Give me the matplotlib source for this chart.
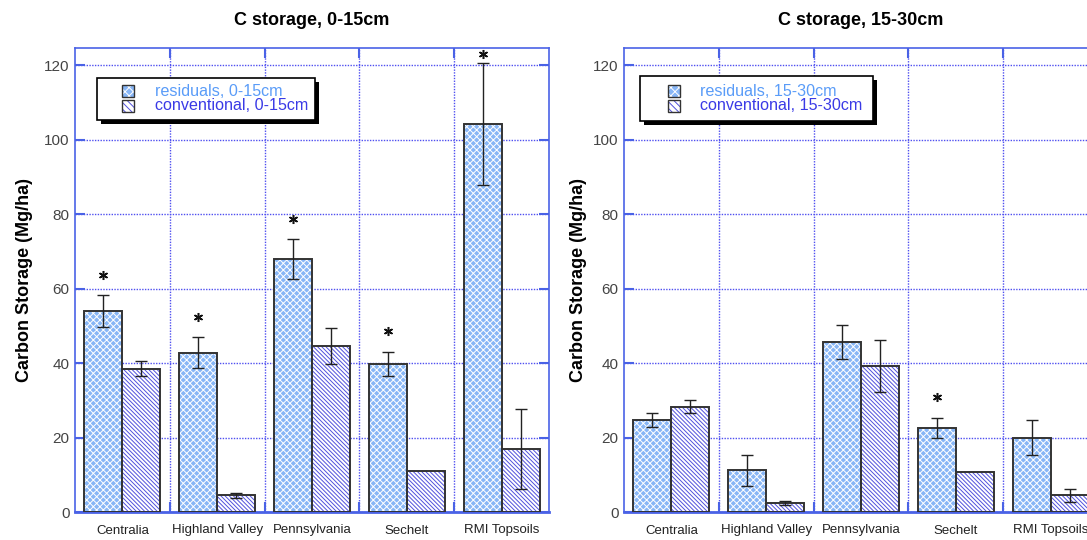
import matplotlib
matplotlib.use('Agg')
import matplotlib.pyplot as plt
from matplotlib.patches import Rectangle
import numpy as np

plt.rcParams['font.family'] = ['Liberation Sans', 'DejaVu Sans']
plt.rcParams['hatch.linewidth'] = 0.7

sites = ['Centralia', 'Highland Valley', 'Pennsylvania', 'Sechelt', 'RMI Topsoils']

# 0-15 cm depth
res_top = [54.0, 42.8, 67.9, 39.8, 104.3]
res_top_err = [4.2, 4.1, 5.3, 3.2, 16.4]
conv_top = [38.5, 4.5, 44.5, 10.9, 16.9]
conv_top_err = [2.0, 0.7, 4.8, 0.0, 10.7]
star_top = [True, True, True, True, True]

# 15-30 cm depth
res_sub = [24.7, 11.2, 45.6, 22.6, 20.0]
res_sub_err = [1.8, 4.1, 4.5, 2.7, 4.6]
conv_sub = [28.3, 2.4, 39.2, 10.8, 4.5]
conv_sub_err = [1.7, 0.6, 7.1, 0.0, 1.7]
star_sub = [False, False, False, True, False]

BLUE = '#4a62e6'
GRID = '#4f4ff0'
RES_FACE = '#88b6f6'
RES_HATCH = 'xxxxx'
CONV_HATCH = '#5050dc'
CONV_PATTERN = '\\' * 8
OUTLINE = '#333333'


def hatched_bar(ax, x, h, w, face, hatch, hcolor):
    ax.bar(x, h, w, color=face, edgecolor=hcolor, hatch=hatch, linewidth=0, zorder=2)
    ax.bar(x, h, w, fill=False, edgecolor=OUTLINE, linewidth=1.4, zorder=3)


def draw_legend(ax, depth, box, hx, tx):
    # legend box with drop shadow, positions in pixels from the top-left of the axes
    tr = ax.transAxes
    px = 1 / 474.0
    py = 1 / 464.0
    bx0, bx1, by_top, by_bot = box
    w, h = (bx1 - bx0) * px, (by_bot - by_top) * py
    ax.add_patch(Rectangle((bx0 * px + 4 * px, 1 - by_bot * py - 4 * py), w, h, transform=tr,
                           facecolor='black', edgecolor='none', zorder=6))
    ax.add_patch(Rectangle((bx0 * px, 1 - by_bot * py), w, h, transform=tr,
                           facecolor='white', edgecolor='black', linewidth=1.2, zorder=7))
    hw, hh = 12 * px, 12 * py
    for yy, face, hc, pat in [(49, RES_FACE, 'white', 'xxxx'),
                              (64, 'white', CONV_HATCH, '\\' * 5)]:
        ax.add_patch(Rectangle((hx * px, 1 - yy * py), hw, hh, transform=tr, facecolor=face,
                               edgecolor=hc, hatch=pat, linewidth=0, zorder=8))
        ax.add_patch(Rectangle((hx * px, 1 - yy * py), hw, hh, transform=tr, fill=False,
                               edgecolor=OUTLINE, linewidth=1.0, zorder=9))
    ax.text(tx * px, 1 - 43 * py, 'residuals, ' + depth, transform=tr, va='center',
            fontsize=11.6, color='#5a9cf8', zorder=10)
    ax.text(tx * px, 1 - 57 * py, 'conventional, ' + depth, transform=tr, va='center',
            fontsize=11.6, color='#3a3ae6', zorder=10)


def draw_panel(ax, res, res_err, conv, conv_err, stars, title):
    x = np.arange(len(sites))
    w = 0.40
    hatched_bar(ax, x - w / 2, res, w, RES_FACE, RES_HATCH, 'white')
    hatched_bar(ax, x + w / 2, conv, w, 'white', CONV_PATTERN, CONV_HATCH)

    for xs, vals, errs in [(x - w / 2, res, res_err), (x + w / 2, conv, conv_err)]:
        errs = np.array(errs)
        m = errs > 0
        ax.errorbar(xs[m], np.array(vals)[m], yerr=errs[m], fmt='none', ecolor='#222222',
                    elinewidth=1.0, capsize=4, capthick=1.0, zorder=4)

    # significance markers above the residual bars
    for i, s in enumerate(stars):
        if s:
            y = min(res[i] + res_err[i] + 5.5, 123)
            ax.plot(x[i] - w / 2, y, marker=(6, 2, 0), ms=6.5, mew=1.1, color='#111111', zorder=5)

    ax.set_xlim(-0.5, 4.5)
    ax.set_ylim(0, 124.6)
    ax.set_yticks(np.arange(0, 121, 20))
    ax.set_xticks(np.arange(0.5, 4.5, 1.0))
    ax.set_xticklabels([])
    ax.set_xticks(x, labels=sites, minor=True)
    ax.tick_params(axis='x', which='minor', length=0, pad=9, labelsize=9.5, labelcolor='#222222')
    ax.tick_params(axis='both', which='major', direction='in', length=7, width=1.5,
                   color=BLUE, top=True, right=True)
    ax.tick_params(axis='y', labelsize=11, labelcolor='#444444', pad=4)
    ax.grid(True, which='major', color=GRID, linestyle=(0, (1, 1)), linewidth=1.0)
    ax.set_axisbelow(True)
    for sp in ax.spines.values():
        sp.set_color(BLUE)
        sp.set_linewidth(1.2)
    ax.spines['bottom'].set_linewidth(2.0)

    ax.set_ylabel('Carbon Storage (Mg/ha)', fontsize=13, fontweight='bold')
    ax.text(0.5, 1.06, title, transform=ax.transAxes, ha='center', va='center',
            fontsize=13, fontweight='bold')


fig = plt.figure(figsize=(10.87, 5.40), dpi=100)
ax1 = fig.add_axes([75 / 1087, 28 / 540, 474 / 1087, 464 / 540])
ax2 = fig.add_axes([624 / 1087, 28 / 540, 474 / 1087, 464 / 540])

draw_panel(ax1, res_top, res_top_err, conv_top, conv_top_err, star_top, 'C storage, 0-15cm')
draw_panel(ax2, res_sub, res_sub_err, conv_sub, conv_sub_err, star_sub, 'C storage, 15-30cm')
draw_legend(ax1, '0-15cm', (22, 240, 30, 72), 47, 80)
draw_legend(ax2, '15-30cm', (16, 249, 28, 73), 44, 76)
ax1.yaxis.set_label_coords(-0.089, 0.5)
ax2.yaxis.set_label_coords(-0.078, 0.5)

fig.savefig('out.png', dpi=100)
